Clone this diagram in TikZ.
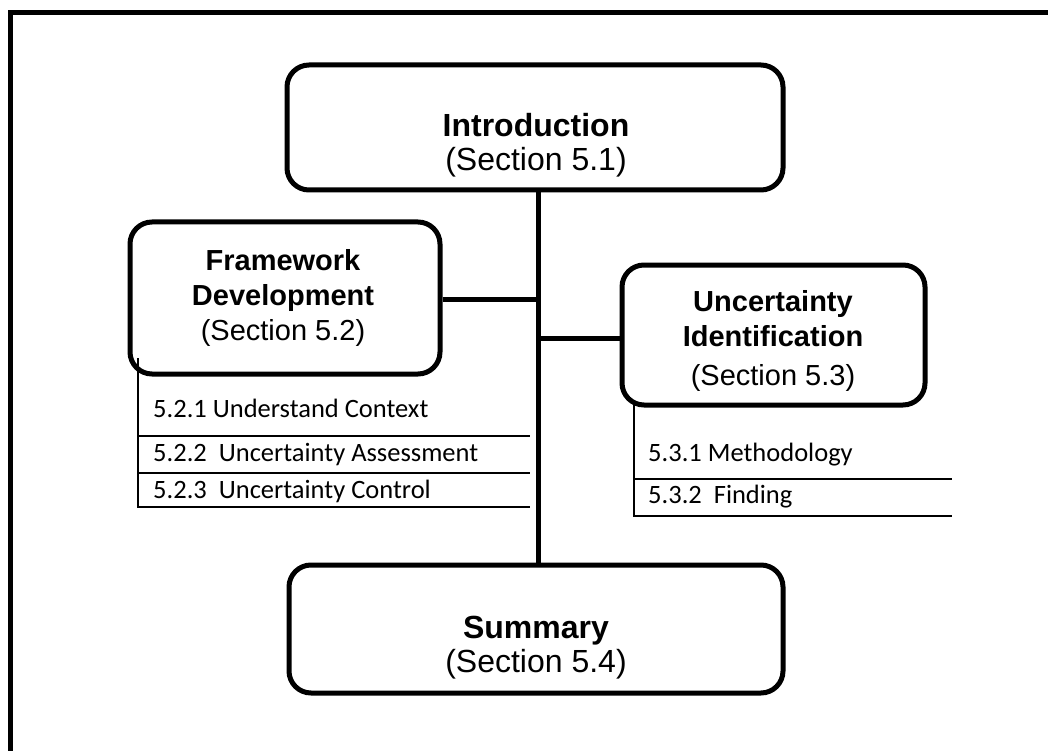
\documentclass[tikz,border=0pt]{standalone}
\usepackage{fontspec}
\setmainfont{Liberation Sans}
\newfontfamily\calfont{Carlito}
\begin{document}
\begin{tikzpicture}[x=1pt,y=-1pt,
  box/.style={draw, line width=5pt, rounded corners=22pt, inner sep=0pt},
  thickline/.style={line width=5pt},
  thinline/.style={line width=2pt},
  bigbold/.style={anchor=base, inner sep=0pt, font=\fontsize{32}{38}\selectfont\bfseries},
  bigreg/.style={anchor=base, inner sep=0pt, font=\fontsize{32}{38}\selectfont},
  midbold/.style={anchor=base, inner sep=0pt, font=\fontsize{29}{35}\selectfont\bfseries},
  midreg/.style={anchor=base, inner sep=0pt, font=\fontsize{29}{35}\selectfont},
  subtext/.style={anchor=base west, inner sep=0pt, font=\calfont\fontsize{26.5}{30}\selectfont}]
\useasboundingbox (0,0) rectangle (1048,751);
\fill[white] (0,0) rectangle (1048,751);
% outer frame
\coordinate (fa) at (10.5,770);
\coordinate (fb) at (10.5,12.5);
\coordinate (fc) at (1070,12.5);
\draw[thickline] (fa) -- (fb) -- (fc);
% boxes
\node[box, minimum width=496pt, minimum height=125pt] (intro) at (535,127.5) {};
\node[box, minimum width=310pt, minimum height=152pt] (fw) at (285,298) {};
\node[box, minimum width=303pt, minimum height=140pt] (unc) at (773.5,335) {};
\node[box, minimum width=494pt, minimum height=128pt] (sum) at (536,629) {};
% texts
\node[bigbold] (t1a) at (536,137) {Introduction};
\node[bigreg] (t1b) at (536,171) {(Section 5.1)};
\node[midbold] (t2a) at (283,270) {Framework};
\node[midbold] (t2b) at (283,305) {Development};
\node[midreg] (t2c) at (283,340.5) {(Section 5.2)};
\node[midbold] (t3a) at (773,311.5) {Uncertainty};
\node[midbold] (t3b) at (773,346.5) {Identification};
\node[midreg] (t3c) at (773,385.5) {(Section 5.3)};
\node[bigbold] (t4a) at (536,638) {Summary};
\node[bigreg] (t4b) at (536,672) {(Section 5.4)};
% trunk and branches
\coordinate (tx) at (538,0);
\coordinate (j1) at (538,299);
\coordinate (j2) at (538,338);
\draw[thickline] (intro.south -| tx) -- (sum.north -| tx);
\draw[thickline] (fw.east |- j1) -- (j1);
\draw[thickline] (j2) -- (unc.west |- j2);
% left sub list
\coordinate (la) at (138,358);
\coordinate (lb) at (138,507);
\coordinate (lc) at (530,507);
\coordinate (l1a) at (138,436);
\coordinate (l1b) at (530,436);
\coordinate (l2a) at (138,473);
\coordinate (l2b) at (530,473);
\draw[thinline] (la) -- (lb) -- (lc);
\draw[thinline] (l1a) -- (l1b);
\draw[thinline] (l2a) -- (l2b);
\node[subtext] (s1) at (153,417) {5.2.1 Understand Context};
\node[subtext] (s2) at (153,461.5) {5.2.2\ \ Uncertainty Assessment};
\node[subtext] (s3) at (153,498) {5.2.3\ \ Uncertainty Control};
% right sub list
\coordinate (ra) at (634,400);
\coordinate (rb) at (634,516);
\coordinate (rc) at (952,516);
\coordinate (r1a) at (634,479);
\coordinate (r1b) at (952,479);
\draw[thinline] (ra) -- (rb) -- (rc);
\draw[thinline] (r1a) -- (r1b);
\node[subtext] (s4) at (648,461.5) {5.3.1 Methodology};
\node[subtext] (s5) at (648,503) {5.3.2\ \ Finding};
\end{tikzpicture}
\end{document}
